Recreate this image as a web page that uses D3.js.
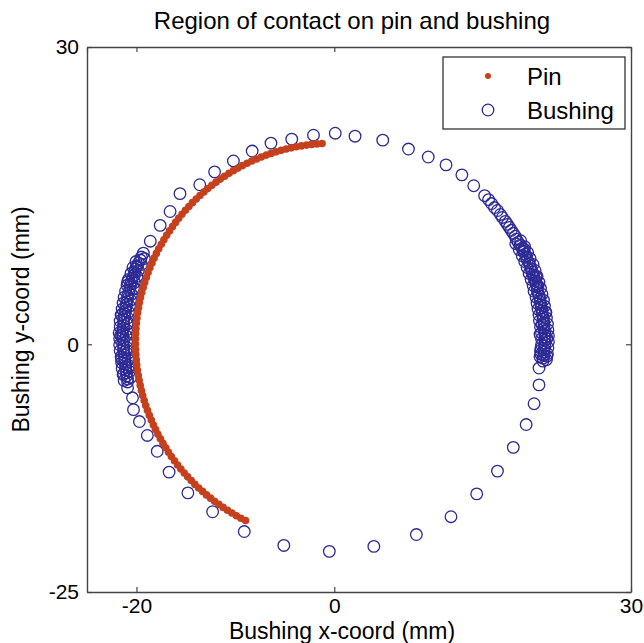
<!DOCTYPE html>
<html>
<head>
<meta charset="utf-8">
<script src="https://cdn.jsdelivr.net/npm/d3@7"></script>
<style>
  body { margin: 0; background: #fff; }
  svg { font-family: "Liberation Sans", Arial, sans-serif; }
</style>
</head>
<body>
<div id="chart"></div>
<script>
// Contact points (mm)
const pinX = [-1.23, -1.75, -2.28, -2.80, -3.32, -3.84, -4.35, -4.86, -5.37, -5.88,
  -6.38, -6.87, -7.37, -7.85, -8.34, -8.81, -9.28, -9.74, -10.20, -10.65,
  -11.09, -11.53, -11.96, -12.38, -12.79, -13.19, -13.58, -13.96, -14.34, -14.70,
  -15.05, -15.40, -15.73, -16.05, -16.36, -16.66, -16.95, -17.23, -17.49, -17.75,
  -17.99, -18.22, -18.43, -18.64, -18.83, -19.00, -19.17, -19.32, -19.46, -19.59,
  -19.70, -19.79, -19.88, -19.95, -20.01, -20.05, -20.08, -20.10, -20.10, -20.09,
  -20.06, -20.02, -19.97, -19.91, -19.82, -19.73, -19.62, -19.50, -19.37, -19.22,
  -19.06, -18.89, -18.70, -18.50, -18.29, -18.07, -17.83, -17.58, -17.32, -17.04,
  -16.76, -16.47, -16.16, -15.84, -15.51, -15.17, -14.82, -14.46, -14.09, -13.71,
  -13.32, -12.92, -12.51, -12.10, -11.67, -11.24, -10.80, -10.35, -9.90, -9.44, -8.97];
const pinY = [20.26, 20.22, 20.17, 20.10, 20.02, 19.93, 19.82, 19.70, 19.57, 19.42,
  19.26, 19.09, 18.90, 18.70, 18.49, 18.27, 18.03, 17.78, 17.52, 17.25,
  16.96, 16.67, 16.36, 16.04, 15.71, 15.37, 15.02, 14.66, 14.29, 13.91,
  13.52, 13.12, 12.71, 12.30, 11.87, 11.44, 11.00, 10.55, 10.10, 9.64,
  9.17, 8.69, 8.21, 7.73, 7.24, 6.74, 6.24, 5.74, 5.23, 4.72,
  4.21, 3.69, 3.17, 2.65, 2.13, 1.60, 1.08, 0.55, 0.03, -0.50,
  -1.03, -1.55, -2.08, -2.60, -3.12, -3.63, -4.15, -4.66, -5.17, -5.68,
  -6.18, -6.67, -7.17, -7.65, -8.14, -8.61, -9.08, -9.54, -10.00, -10.45,
  -10.89, -11.33, -11.76, -12.18, -12.59, -12.99, -13.38, -13.76, -14.14, -14.50,
  -14.85, -15.20, -15.53, -15.85, -16.16, -16.46, -16.75, -17.03, -17.30, -17.55, -17.79];

const bushX = [
  // top arc
  -19.3, -18.6, -17.6, -16.6, -15.6, -13.6, -12.1, -10.2, -8.3, -6.4, -4.3, -2.1, 0.1, 2.1, 4.9, 7.5, 9.5, 11.3, 12.9, 14.1, 15.2,
  // left cluster
  -19.5, -19.6, -19.8, -19.9, -20.1, -20.2, -20.2, -20.4, -20.5, -20.6, -20.6, -20.7, -20.8, -20.9, -20.9,
  -21.0, -21.0, -21.1, -21.1, -21.2, -21.2, -21.3, -21.3, -21.3, -21.3, -21.4, -21.4, -21.4, -21.3, -21.4,
  -21.3, -21.3, -21.3, -21.2, -21.2, -21.2, -21.1, -21.1, -21.1, -21.0, -21.0, -20.9, -20.9,
  -20.0, -20.9, -20.1, -21.5, -20.8, -21.6, -21.0, -21.5, -20.8, -21.3,
  -19.2, -20.05, -19.5, -20.35, -19.8, -20.55, -19.95, -20.8, -20.2, -20.95, -20.3, -21.1, -20.5, -21.25,
  -20.6, -21.35, -20.7, -21.45, -20.8, -21.55, -20.9, -21.65, -20.95, -21.65, -21.0, -21.75, -21.05, -21.7,
  -21.0, -21.7, -20.95, -21.65, -20.9, -21.55, -20.85, -21.5, -20.75, -21.45, -20.7, -21.35, -20.6, -21.25,
  // bottom arc
  -20.9, -20.4, -20.3, -19.7, -18.9, -17.9, -16.7, -14.8, -12.3, -9.1, -5.1, -0.5, 4.0, 8.3, 11.8, 14.4, 16.5, 18.1, 19.4, 20.2, 20.7, 20.7,
  // right cluster
  15.6, 15.9, 16.2, 16.5, 16.8, 17.0, 17.3, 17.5, 17.7, 17.9, 18.1, 18.3, 18.4, 18.6, 18.8, 19.0, 19.1, 19.3, 19.4, 19.5,
  19.7, 19.8, 19.9, 20.0, 20.1, 20.2, 20.3, 20.4, 20.5, 20.5, 20.6, 20.7, 20.8, 20.8, 20.9, 20.9, 21.0, 21.0, 21.1, 21.1,
  21.2, 21.2, 21.2, 21.3, 21.3, 21.3, 21.3, 21.3, 21.3, 21.2, 21.2, 21.2, 21.1, 21.1,
  19.2, 20.6, 21.0, 20.8, 21.5, 20.9, 21.4, 20.4, 21.5, 20.9,
  18.85, 18.35, 19.25, 18.7, 19.55, 19.0, 19.8, 19.25, 20.1, 19.5, 20.3, 19.7, 20.5, 19.9,
  20.7, 20.1, 20.85, 20.2, 21.0, 20.4, 21.15, 20.5, 21.25, 20.6, 21.35, 20.7, 21.45, 20.75,
  21.55, 20.85, 21.6, 20.95, 21.65, 20.95, 21.65, 20.95, 21.6, 20.85, 21.55, 20.8, 21.45
];
const bushY = [
  9.2, 10.4, 12.0, 13.4, 15.2, 16.1, 17.4, 18.5, 19.5, 20.3, 20.7, 21.1, 21.3, 21.0, 20.6, 19.7, 18.9, 18.1, 17.1, 16.0, 15.0,
  8.8, 8.5, 8.2, 7.9, 7.6, 7.3, 7.0, 6.7, 6.4, 6.1, 5.8, 5.5, 5.2, 4.9, 4.6,
  4.3, 4.0, 3.7, 3.4, 3.1, 2.8, 2.5, 2.2, 1.9, 1.6, 1.3, 1.0, 0.7, 0.4, 0.1,
  -0.2, -0.5, -0.8, -1.1, -1.4, -1.7, -2.0, -2.3, -2.6, -2.9, -3.2, -3.5, -3.8,
  7.8, 6.3, 5.6, 3.0, 2.1, 0.9, -0.6, -1.5, -2.4, -3.0,
  8.65, 8.35, 8.05, 7.75, 7.45, 7.15, 6.85, 6.55, 6.25, 5.95, 5.65, 5.35, 5.05, 4.75,
  4.45, 4.15, 3.85, 3.55, 3.25, 2.95, 2.65, 2.35, 2.05, 1.75, 1.45, 1.15, 0.85, 0.55,
  0.25, -0.05, -0.35, -0.65, -0.95, -1.25, -1.55, -1.85, -2.15, -2.45, -2.75, -3.05, -3.35, -3.65,
  -4.4, -5.4, -6.6, -7.8, -9.2, -10.8, -12.9, -15.0, -16.9, -18.9, -20.3, -20.9, -20.4, -19.2, -17.4, -15.1, -12.8, -10.4, -8.1, -6.0, -4.1, -2.4,
  14.6, 14.2, 13.8, 13.5, 13.1, 12.8, 12.4, 12.1, 11.8, 11.5, 11.2, 10.9, 10.6, 10.3, 10.0, 9.7, 9.4, 9.1, 8.8, 8.5,
  8.2, 7.9, 7.6, 7.3, 7.0, 6.7, 6.4, 6.1, 5.8, 5.5, 5.2, 4.9, 4.6, 4.3, 4.0, 3.7, 3.4, 3.1, 2.8, 2.5,
  2.2, 1.9, 1.6, 1.3, 1.0, 0.7, 0.4, 0.1, -0.2, -0.5, -0.8, -1.1, -1.4, -1.7,
  9.6, 5.9, 2.0, 1.0, 0.6, -0.4, 3.2, 6.8, -1.2, -1.0,
  10.45, 10.15, 9.85, 9.55, 9.25, 8.95, 8.65, 8.35, 8.05, 7.75, 7.45, 7.15, 6.85, 6.55,
  6.25, 5.95, 5.65, 5.35, 5.05, 4.75, 4.45, 4.15, 3.85, 3.55, 3.25, 2.95, 2.65, 2.35,
  2.05, 1.75, 1.45, 1.15, 0.85, 0.55, 0.25, -0.05, -0.35, -0.65, -0.95, -1.25, -1.55
];

const xTicks = [-25, -20, 0, 30];
const yTicks = [-25, 0, 30];
const xDomain = [-25, 30];
const yDomain = [-25, 30];

const pinColor = '#c5401c';
const bushColor = '#2d2a95';

const totalW = 644, totalH = 643;
const margin = { top: 47, right: 13, bottom: 51, left: 87 };
const width = totalW - margin.left - margin.right;
const height = totalH - margin.top - margin.bottom;

const svg = d3.select('#chart')
  .append('svg')
  .attr('width', totalW)
  .attr('height', totalH);

const g = svg.append('g')
  .attr('transform', `translate(${margin.left},${margin.top})`);

const x = d3.scaleLinear().domain(xDomain).range([0, width]);
const y = d3.scaleLinear().domain(yDomain).range([height, 0]);

// Title
svg.append('text')
  .attr('x', 352)
  .attr('y', 29)
  .attr('text-anchor', 'middle')
  .style('font-size', '24px')
  .text('Region of contact on pin and bushing');

// Axes: ticks point inward on all four sides
const axisColor = '#444';
const fmt = d => d3.format('d')(d).replace('−', '-');
function styleAxis(sel) {
  sel.select('.domain').attr('stroke', axisColor).attr('stroke-width', 1.4);
  sel.selectAll('.tick line').attr('stroke', axisColor).attr('stroke-width', 1.2);
  sel.selectAll('.tick text').attr('fill', '#000').style('font-size', '21px');
}

g.append('g')
  .attr('transform', `translate(0,${height})`)
  .call(d3.axisBottom(x).tickValues(xTicks.filter(d => d !== -25)).tickSizeInner(-5).tickSizeOuter(0).tickPadding(6).tickFormat(fmt))
  .call(styleAxis);

g.append('g')
  .call(d3.axisTop(x).tickValues(xTicks).tickSizeInner(-5).tickSizeOuter(0).tickFormat(''))
  .call(styleAxis);

g.append('g')
  .call(d3.axisLeft(y).tickValues(yTicks).tickSizeInner(-5).tickSizeOuter(0).tickPadding(8).tickFormat(fmt))
  .call(styleAxis);

g.append('g')
  .attr('transform', `translate(${width},0)`)
  .call(d3.axisRight(y).tickValues(yTicks).tickSizeInner(-5).tickSizeOuter(0).tickFormat(''))
  .call(styleAxis);

// Axis labels
svg.append('text')
  .attr('x', 342)
  .attr('y', 639)
  .attr('text-anchor', 'middle')
  .style('font-size', '23px')
  .text('Bushing x-coord (mm)');

svg.append('text')
  .attr('transform', `translate(29,${margin.top + height / 2}) rotate(-90)`)
  .attr('text-anchor', 'middle')
  .style('font-size', '23px')
  .text('Bushing y-coord (mm)');

// Bushing markers (open circles)
const bushData = bushX.map((d, i) => ({ x: d, y: bushY[i] }));
g.selectAll('.bush')
  .data(bushData)
  .enter()
  .append('circle')
  .attr('class', 'bush')
  .attr('cx', d => x(d.x))
  .attr('cy', d => y(d.y))
  .attr('r', 5.8)
  .attr('fill', 'none')
  .attr('stroke', bushColor)
  .attr('stroke-width', 1.3);

// Pin markers (filled dots)
const pinData = pinX.map((d, i) => ({ x: d, y: pinY[i] }));
g.selectAll('.pin')
  .data(pinData)
  .enter()
  .append('circle')
  .attr('class', 'pin')
  .attr('cx', d => x(d.x))
  .attr('cy', d => y(d.y))
  .attr('r', 3.8)
  .attr('fill', pinColor);

// Legend
const legend = svg.append('g')
  .attr('transform', 'translate(443,57)');

legend.append('rect')
  .attr('width', 182)
  .attr('height', 72)
  .attr('fill', '#fff')
  .attr('stroke', '#222')
  .attr('stroke-width', 1.2);

legend.append('circle')
  .attr('cx', 45)
  .attr('cy', 19)
  .attr('r', 3)
  .attr('fill', pinColor);

legend.append('circle')
  .attr('cx', 45)
  .attr('cy', 53)
  .attr('r', 5.8)
  .attr('fill', 'none')
  .attr('stroke', bushColor)
  .attr('stroke-width', 1.3);

legend.append('text')
  .attr('x', 84)
  .attr('y', 28)
  .style('font-size', '24px')
  .text('Pin');

legend.append('text')
  .attr('x', 84)
  .attr('y', 62)
  .style('font-size', '24px')
  .text('Bushing');
</script>
</body>
</html>
